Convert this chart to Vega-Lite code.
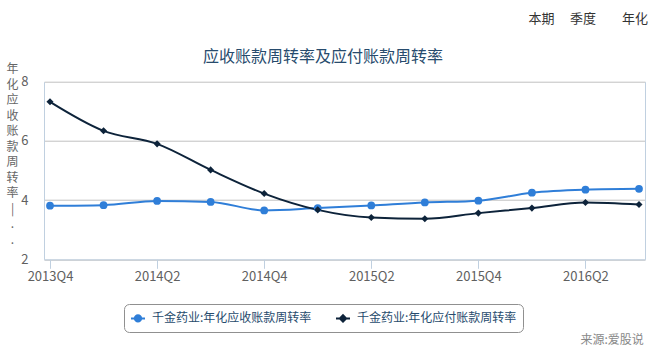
{
  "$schema": "https://vega.github.io/schema/vega-lite/v6.json",
  "width": 601,
  "height": 177.6,
  "autosize": {"type": "none"},
  "padding": {"left": 44, "top": 81.7, "right": 13, "bottom": 96.7},
  "background": "white",
  "config": {"font": "Noto Sans CJK SC", "view": {"stroke": null}},
  "data": {"values": [
    {"quarter": "2013Q4", "series": "千金药业:年化应收账款周转率", "value": 3.81},
    {"quarter": "2014Q1", "series": "千金药业:年化应收账款周转率", "value": 3.83},
    {"quarter": "2014Q2", "series": "千金药业:年化应收账款周转率", "value": 3.97},
    {"quarter": "2014Q3", "series": "千金药业:年化应收账款周转率", "value": 3.94},
    {"quarter": "2014Q4", "series": "千金药业:年化应收账款周转率", "value": 3.65},
    {"quarter": "2015Q1", "series": "千金药业:年化应收账款周转率", "value": 3.73},
    {"quarter": "2015Q2", "series": "千金药业:年化应收账款周转率", "value": 3.82},
    {"quarter": "2015Q3", "series": "千金药业:年化应收账款周转率", "value": 3.92},
    {"quarter": "2015Q4", "series": "千金药业:年化应收账款周转率", "value": 3.98},
    {"quarter": "2016Q1", "series": "千金药业:年化应收账款周转率", "value": 4.25},
    {"quarter": "2016Q2", "series": "千金药业:年化应收账款周转率", "value": 4.35},
    {"quarter": "2016Q3", "series": "千金药业:年化应收账款周转率", "value": 4.38},
    {"quarter": "2013Q4", "series": "千金药业:年化应付账款周转率", "value": 7.32},
    {"quarter": "2014Q1", "series": "千金药业:年化应付账款周转率", "value": 6.34},
    {"quarter": "2014Q2", "series": "千金药业:年化应付账款周转率", "value": 5.9},
    {"quarter": "2014Q3", "series": "千金药业:年化应付账款周转率", "value": 5.02},
    {"quarter": "2014Q4", "series": "千金药业:年化应付账款周转率", "value": 4.22},
    {"quarter": "2015Q1", "series": "千金药业:年化应付账款周转率", "value": 3.67},
    {"quarter": "2015Q2", "series": "千金药业:年化应付账款周转率", "value": 3.41},
    {"quarter": "2015Q3", "series": "千金药业:年化应付账款周转率", "value": 3.37},
    {"quarter": "2015Q4", "series": "千金药业:年化应付账款周转率", "value": 3.56},
    {"quarter": "2016Q1", "series": "千金药业:年化应付账款周转率", "value": 3.73},
    {"quarter": "2016Q2", "series": "千金药业:年化应付账款周转率", "value": 3.92},
    {"quarter": "2016Q3", "series": "千金药业:年化应付账款周转率", "value": 3.85}
  ]},
  "layer": [
    {
      "mark": {"type": "line", "interpolate": "monotone", "strokeWidth": 2},
      "encoding": {
        "x": {"field": "quarter", "type": "ordinal", "scale": {"type": "point", "padding": 0.112},
          "axis": {"orient": "bottom", "values": ["2013Q4", "2014Q2", "2014Q4", "2015Q2", "2015Q4", "2016Q2"], "domainColor": "#C0D0E0", "tickColor": "#C0D0E0", "tickSize": 9, "labelFontSize": 13, "labelColor": "#606060", "labelPadding": 2, "labelAngle": 0, "grid": false,
            "title": "来源:爱股说", "titleX": 536, "titleY": 79.7, "titleAlign": "left", "titleBaseline": "middle", "titleFontSize": 12, "titleFontWeight": "normal", "titleColor": "#888888"}},
        "y": {"field": "value", "type": "quantitative", "scale": {"domain": [2, 8], "nice": false, "zero": false},
          "axis": {"orient": "left", "values": [2, 4, 6, 8], "grid": true, "gridColor": "#C0C0C0", "domainColor": "#C0D0E0", "ticks": false, "labelPadding": 16, "labelFontSize": 13, "labelColor": "#606060",
            "title": ["年", "化", "应", "收", "账", "款", "周", "转", "率", "|", ".", "."], "titleAngle": 0, "titleX": -32, "titleY": -18, "titleAlign": "center", "titleBaseline": "top", "titleFontSize": 12, "titleFontWeight": "normal", "titleColor": "#666666", "titleLineHeight": 15.5}},
        "color": {"field": "series", "type": "nominal",
          "scale": {"domain": ["千金药业:年化应收账款周转率", "千金药业:年化应付账款周转率"], "range": ["#2f7ed8", "#0d233a"]},
          "legend": {"orient": "none", "legendX": 80, "legendY": 222.3, "direction": "horizontal", "title": null, "strokeColor": "#909090", "cornerRadius": 5, "padding": 6, "fillColor": "white", "symbolSize": 196, "symbolStrokeWidth": 2, "labelFontSize": 12, "labelColor": "#274b6d", "labelLimit": 400, "columnPadding": 20, "labelOffset": 6,
            "encode": {"symbols": {"update": {
              "shape": {"signal": "datum.value === '千金药业:年化应收账款周转率' ? 'M-1,0L1,0M0.45,0A0.45,0.45,0,1,1,-0.45,0A0.45,0.45,0,1,1,0.45,0M-1,0Z' : 'M-1,0L1,0M0,-0.45L0.45,0L0,0.45L-0.45,0Z'"},
              "fill": {"signal": "scale('color', datum.value)"},
              "stroke": {"signal": "scale('color', datum.value)"},
              "strokeWidth": {"value": 2},
              "strokeOpacity": {"value": 1},
              "fillOpacity": {"value": 1},
              "opacity": {"value": 1}}}}}}
      }
    },
    {
      "transform": [{"filter": "datum.series === '千金药业:年化应收账款周转率'"}],
      "mark": {"type": "point", "filled": true, "opacity": 1, "shape": "circle", "size": 60, "color": "#2f7ed8"},
      "encoding": {
        "x": {"field": "quarter", "type": "ordinal", "scale": {"type": "point", "padding": 0.112},
          "axis": {"orient": "top", "labels": false, "ticks": false, "domain": false, "grid": false,
            "title": "应收账款周转率及应付账款周转率", "titleX": 278.5, "titleY": -25.2, "titleAlign": "center", "titleBaseline": "middle", "titleFontSize": 16, "titleFontWeight": "normal", "titleColor": "#274b6d"}},
        "y": {"field": "value", "type": "quantitative", "scale": {"domain": [2, 8], "nice": false, "zero": false},
          "axis": {"orient": "right", "labels": false, "ticks": false, "grid": false, "domainColor": "#C0D0E0",
            "title": "本期\u3000\u2009季度\u3000\u3000年化", "titleAngle": 0, "titleX": -117, "titleY": -62.7, "titleAlign": "left", "titleBaseline": "middle", "titleFontSize": 13, "titleFontWeight": "normal", "titleColor": "#333333"}}
      }
    },
    {
      "transform": [{"filter": "datum.series === '千金药业:年化应付账款周转率'"}],
      "mark": {"type": "point", "filled": true, "opacity": 1, "shape": "diamond", "size": 50, "color": "#0d233a"},
      "encoding": {
        "x": {"field": "quarter", "type": "ordinal", "scale": {"type": "point", "padding": 0.112}, "axis": null},
        "y": {"field": "value", "type": "quantitative", "scale": {"domain": [2, 8], "nice": false, "zero": false}, "axis": null}
      }
    }
  ],
  "resolve": {"axis": {"x": "independent", "y": "independent"}}
}
